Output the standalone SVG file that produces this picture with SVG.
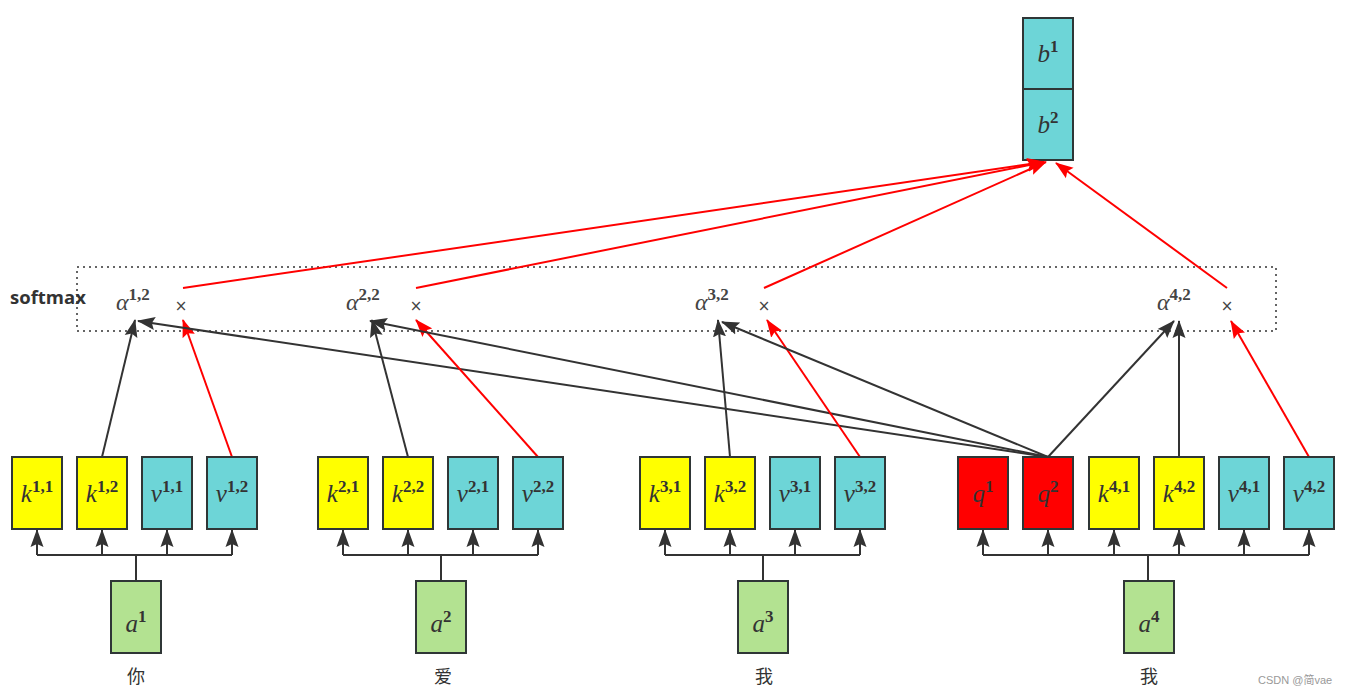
<svg xmlns="http://www.w3.org/2000/svg" width="1347" height="695" viewBox="0 0 1347 695">
<style>
.box{stroke:#2f3636;stroke-width:2}
.y{fill:#ffff00}.c{fill:#6dd5d7}.r{fill:#ff0000}.g{fill:#b3e291}
.m{font-family:"Liberation Serif","DejaVu Serif",serif;font-style:italic;font-size:25px;fill:#333;text-anchor:middle}
.s{font-style:normal;font-weight:bold;font-size:17px}
.al{font-family:"Liberation Serif","DejaVu Serif",serif;font-style:italic;font-size:24px;fill:#444}
.x{font-family:"DejaVu Sans",sans-serif;font-size:15px;fill:#444;text-anchor:middle}
.k{stroke:#333;stroke-width:2;fill:none}
.rd{stroke:#ff0000;stroke-width:2;fill:none}
.cn{font-family:"Noto Sans CJK SC",sans-serif;font-size:18px;fill:#333;text-anchor:middle}
</style>
<defs>
<marker id="ab" viewBox="0 0 18 14" refX="17" refY="7" markerWidth="18" markerHeight="14" orient="auto" markerUnits="userSpaceOnUse"><path d="M0,0.5 L18,7 L0,13.5 L3,7 z" fill="#333"/></marker>
<marker id="ar" viewBox="0 0 18 14" refX="17" refY="7" markerWidth="18" markerHeight="14" orient="auto" markerUnits="userSpaceOnUse"><path d="M0,0.5 L18,7 L0,13.5 L3,7 z" fill="#ff0000"/></marker>
</defs>
<rect width="1347" height="695" fill="#fff"/>

<g id="softmax">
<rect x="77" y="267" width="1199" height="64" fill="none" stroke="#333" stroke-width="1.5" stroke-dasharray="2,4"/>
<text x="10" y="304" font-family="Open Sans,sans-serif" font-weight="bold" font-size="18.5" fill="#333">softmax</text>
<text class="al" x="116" y="310">α<tspan class="s" dy="-10">1,2</tspan></text>
<text class="x" x="181" y="311">×</text>
<text class="al" x="346" y="310">α<tspan class="s" dy="-10">2,2</tspan></text>
<text class="x" x="416" y="311">×</text>
<text class="al" x="695" y="310">α<tspan class="s" dy="-10">3,2</tspan></text>
<text class="x" x="764" y="311">×</text>
<text class="al" x="1157" y="310">α<tspan class="s" dy="-10">4,2</tspan></text>
<text class="x" x="1227" y="311">×</text>
</g>

<g id="b">
<rect class="box c" x="1023" y="18" width="50" height="71"/>
<rect class="box c" x="1023" y="89" width="50" height="71"/>
<text class="m" x="1048" y="62">b<tspan class="s" dy="-10">1</tspan></text>
<text class="m" x="1048" y="133">b<tspan class="s" dy="-10">2</tspan></text>
</g>

<g id="connectors">
<path class="rd" d="M183,288 L1044,162" marker-end="url(#ar)"/>
<path class="rd" d="M416,288 L1044,162" marker-end="url(#ar)"/>
<path class="rd" d="M764,288 L1046,162" marker-end="url(#ar)"/>
<path class="rd" d="M1227,288 L1056,163" marker-end="url(#ar)"/>
<path class="k" d="M102,457 L135,320" marker-end="url(#ab)"/>
<path class="rd" d="M232,457 L183,320" marker-end="url(#ar)"/>
<path class="k" d="M1048,457 L138,321" marker-end="url(#ab)"/>
<path class="k" d="M408,457 L372,320" marker-end="url(#ab)"/>
<path class="rd" d="M538,457 L416,320" marker-end="url(#ar)"/>
<path class="k" d="M1048,457 L370,321" marker-end="url(#ab)"/>
<path class="k" d="M730,457 L718,320" marker-end="url(#ab)"/>
<path class="rd" d="M860,457 L767,320" marker-end="url(#ar)"/>
<path class="k" d="M1048,457 L722,322" marker-end="url(#ab)"/>
<path class="k" d="M1048,457 L1174,321" marker-end="url(#ab)"/>
<path class="k" d="M1179,457 L1179,321" marker-end="url(#ab)"/>
<path class="rd" d="M1309,457 L1231,321" marker-end="url(#ar)"/>
<!-- buses -->
<path class="k" d="M37,555 H232 M136,555 V581"/>
<path class="k" d="M37,555 V530" marker-end="url(#ab)"/>
<path class="k" d="M102,555 V530" marker-end="url(#ab)"/>
<path class="k" d="M167,555 V530" marker-end="url(#ab)"/>
<path class="k" d="M232,555 V530" marker-end="url(#ab)"/>
<path class="k" d="M343,555 H538 M441,555 V581"/>
<path class="k" d="M343,555 V530" marker-end="url(#ab)"/>
<path class="k" d="M408,555 V530" marker-end="url(#ab)"/>
<path class="k" d="M473,555 V530" marker-end="url(#ab)"/>
<path class="k" d="M538,555 V530" marker-end="url(#ab)"/>
<path class="k" d="M665,555 H860 M763,555 V581"/>
<path class="k" d="M665,555 V530" marker-end="url(#ab)"/>
<path class="k" d="M730,555 V530" marker-end="url(#ab)"/>
<path class="k" d="M795,555 V530" marker-end="url(#ab)"/>
<path class="k" d="M860,555 V530" marker-end="url(#ab)"/>
<path class="k" d="M983,555 H1309 M1148,555 V581"/>
<path class="k" d="M983,555 V530" marker-end="url(#ab)"/>
<path class="k" d="M1048,555 V530" marker-end="url(#ab)"/>
<path class="k" d="M1114,555 V530" marker-end="url(#ab)"/>
<path class="k" d="M1179,555 V530" marker-end="url(#ab)"/>
<path class="k" d="M1244,555 V530" marker-end="url(#ab)"/>
<path class="k" d="M1309,555 V530" marker-end="url(#ab)"/>
</g>

<g id="group1">
<rect class="box y" x="12" y="457" width="50" height="72"/><text class="m" x="37" y="502">k<tspan class="s" dy="-10">1,1</tspan></text>
<rect class="box y" x="77" y="457" width="50" height="72"/><text class="m" x="102" y="502">k<tspan class="s" dy="-10">1,2</tspan></text>
<rect class="box c" x="142" y="457" width="50" height="72"/><text class="m" x="167" y="502">v<tspan class="s" dy="-10">1,1</tspan></text>
<rect class="box c" x="207" y="457" width="50" height="72"/><text class="m" x="232" y="502">v<tspan class="s" dy="-10">1,2</tspan></text>
<rect class="box g" x="111" y="581" width="50" height="72"/><text class="m" x="136" y="632">a<tspan class="s" dy="-10">1</tspan></text>
<text class="cn" x="136" y="683">你</text>
</g>
<g id="group2">
<rect class="box y" x="318" y="457" width="50" height="72"/><text class="m" x="343" y="502">k<tspan class="s" dy="-10">2,1</tspan></text>
<rect class="box y" x="383" y="457" width="50" height="72"/><text class="m" x="408" y="502">k<tspan class="s" dy="-10">2,2</tspan></text>
<rect class="box c" x="448" y="457" width="50" height="72"/><text class="m" x="473" y="502">v<tspan class="s" dy="-10">2,1</tspan></text>
<rect class="box c" x="513" y="457" width="50" height="72"/><text class="m" x="538" y="502">v<tspan class="s" dy="-10">2,2</tspan></text>
<rect class="box g" x="416" y="581" width="50" height="72"/><text class="m" x="441" y="632">a<tspan class="s" dy="-10">2</tspan></text>
<text class="cn" x="443" y="683">爱</text>
</g>
<g id="group3">
<rect class="box y" x="640" y="457" width="50" height="72"/><text class="m" x="665" y="502">k<tspan class="s" dy="-10">3,1</tspan></text>
<rect class="box y" x="705" y="457" width="50" height="72"/><text class="m" x="730" y="502">k<tspan class="s" dy="-10">3,2</tspan></text>
<rect class="box c" x="770" y="457" width="50" height="72"/><text class="m" x="795" y="502">v<tspan class="s" dy="-10">3,1</tspan></text>
<rect class="box c" x="835" y="457" width="50" height="72"/><text class="m" x="860" y="502">v<tspan class="s" dy="-10">3,2</tspan></text>
<rect class="box g" x="738" y="581" width="50" height="72"/><text class="m" x="763" y="632">a<tspan class="s" dy="-10">3</tspan></text>
<text class="cn" x="764" y="683">我</text>
</g>
<g id="group4">
<rect class="box r" x="958" y="457" width="50" height="72"/><text class="m" x="983" y="502">q<tspan class="s" dy="-10">1</tspan></text>
<rect class="box r" x="1023" y="457" width="50" height="72"/><text class="m" x="1048" y="502">q<tspan class="s" dy="-10">2</tspan></text>
<rect class="box y" x="1089" y="457" width="50" height="72"/><text class="m" x="1114" y="502">k<tspan class="s" dy="-10">4,1</tspan></text>
<rect class="box y" x="1154" y="457" width="50" height="72"/><text class="m" x="1179" y="502">k<tspan class="s" dy="-10">4,2</tspan></text>
<rect class="box c" x="1219" y="457" width="50" height="72"/><text class="m" x="1244" y="502">v<tspan class="s" dy="-10">4,1</tspan></text>
<rect class="box c" x="1284" y="457" width="50" height="72"/><text class="m" x="1309" y="502">v<tspan class="s" dy="-10">4,2</tspan></text>
<rect class="box g" x="1124" y="581" width="50" height="72"/><text class="m" x="1149" y="632">a<tspan class="s" dy="-10">4</tspan></text>
<text class="cn" x="1149" y="683">我</text>
</g>
<text x="1258" y="684" font-family="Liberation Sans,sans-serif" font-size="11" fill="#999">CSDN @<tspan font-family="Noto Sans CJK SC,sans-serif">简</tspan>vae</text>
</svg>
